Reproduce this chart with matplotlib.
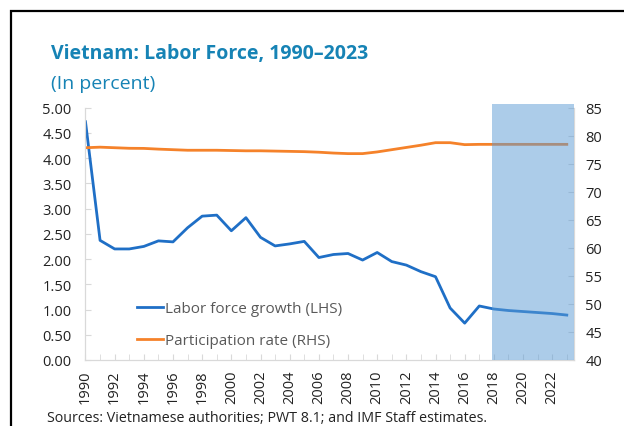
import numpy as np
import matplotlib
matplotlib.use('Agg')
import matplotlib.pyplot as plt
from matplotlib.patches import Rectangle

plt.rcParams['font.family'] = ['Open Sans', 'DejaVu Sans']

# Data
years = np.arange(1990, 2024)
growth = [4.72, 2.37, 2.20, 2.20, 2.25, 2.36, 2.34, 2.62, 2.85, 2.87,
          2.56, 2.82, 2.43, 2.26, 2.30, 2.35, 2.03, 2.09, 2.11, 1.98,
          2.13, 1.95, 1.88, 1.75, 1.65, 1.03, 0.73, 1.07, 1.01, 0.98,
          0.96, 0.94, 0.92, 0.89]
particip = [77.85, 77.95, 77.85, 77.75, 77.73, 77.6, 77.5, 77.4, 77.4, 77.4,
            77.35, 77.3, 77.3, 77.25, 77.2, 77.15, 77.05, 76.9, 76.8, 76.8,
            77.1, 77.5, 77.9, 78.3, 78.75, 78.75, 78.4, 78.45, 78.45, 78.45,
            78.45, 78.45, 78.45, 78.45]
proj_start = 2017.85

title_col = '#1683B5'
grey = '#D9D9D9'

fig = plt.figure(figsize=(6.24, 4.27), dpi=100)
ax = fig.add_axes([0.137, 0.1546, 0.783, 0.591])
ax2 = ax.twinx()

l1, = ax.plot(years, growth, color='#1F6FC6', lw=2, label='Labor force growth (LHS)')
l2, = ax2.plot(years, particip, color='#F5822A', lw=2, label='Participation rate (RHS)')

# projection shading on top of the lines
ax2.axvspan(proj_start, 2023.5, ymin=0, ymax=1.015, color='#5B9BD5', alpha=0.5,
            lw=0, zorder=5, clip_on=False)

ax.set_xlim(1990, 2023.5)
ax.set_ylim(0, 5)
ax2.set_ylim(40, 85)
ax.set_yticks(np.arange(0, 5.01, 0.5))
ax.set_yticklabels(['%.2f' % v for v in np.arange(0, 5.01, 0.5)])
ax2.set_yticks(np.arange(40, 86, 5))
ax.set_xticks(np.arange(1990, 2023, 2))
ax.set_xticks(years, minor=True)
ax.set_xticklabels([str(y) for y in range(1990, 2023, 2)], rotation=90)

for a in (ax, ax2):
    for s in a.spines.values():
        s.set_color(grey)
    a.spines['top'].set_visible(False)
    a.tick_params(axis='y', direction='in', color=grey, labelsize=10.5, length=4,
                  labelcolor='#222222')
ax.tick_params(axis='y', pad=10)
ax2.tick_params(axis='y', pad=8)
ax.tick_params(axis='x', which='both', direction='in', color=grey, labelsize=10.5,
               labelcolor='#222222', length=4, pad=7)

leg = ax.legend(handles=[l1, l2], loc='lower left', bbox_to_anchor=(0.078, -0.007),
                frameon=False, fontsize=11, handlelength=1.7, handletextpad=0.1,
                labelspacing=1.1)
for t in leg.get_texts():
    t.set_color('#595959')

fig.text(0.082, 0.862, 'Vietnam: Labor Force, 1990\u20132023', color=title_col,
         fontsize=14, fontweight='bold', va='baseline')
fig.text(0.082, 0.792, '(In percent)', color=title_col, fontsize=14, va='baseline')
fig.text(0.076, 0.012, 'Sources: Vietnamese authorities; PWT 8.1; and IMF Staff estimates.',
         fontsize=10.3, color='#222222', va='baseline')

fig.patches.append(Rectangle((11 / 624, -0.1), 1.2, 1.072, transform=fig.transFigure,
                             fill=False, ec='black', lw=1.6))

fig.savefig('out.png', dpi=100)
